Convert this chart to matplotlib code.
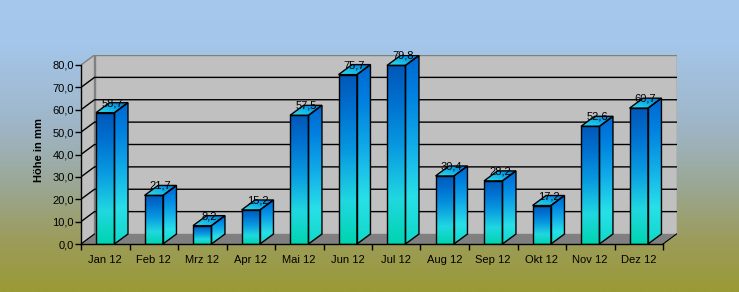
import numpy as np
import matplotlib
matplotlib.use("Agg")
import matplotlib.pyplot as plt
from matplotlib.colors import LinearSegmentedColormap
from matplotlib.patches import Polygon

plt.rcParams['font.family'] = ['Liberation Sans', 'DejaVu Sans']

# data
months = ["Jan 12", "Feb 12", "Mrz 12", "Apr 12", "Mai 12", "Jun 12",
          "Jul 12", "Aug 12", "Sep 12", "Okt 12", "Nov 12", "Dez 12"]
values = [58.7, 21.7, 8.2, 15.2, 57.5, 75.7, 79.8, 30.4, 28.2, 17.2, 52.6, 60.7]
yticks = [0, 10, 20, 30, 40, 50, 60, 70, 80]
ylabel = "Höhe in mm"

W, H, DPI = 739, 292, 100
fig = plt.figure(figsize=(W / DPI, H / DPI), dpi=DPI)

# background gradient (light blue -> olive)
bg = fig.add_axes([0, 0, 1, 1], zorder=-5)
bg_cmap = LinearSegmentedColormap.from_list("bg", [
    (0.0, "#a6c8ec"), (0.15, "#a4c6ea"), (0.45, "#9eb4c4"),
    (0.65, "#9aa690"), (0.82, "#9c9c5c"), (1.0, "#9a9a36")])
bg.imshow(np.linspace(0, 1, 256).reshape(-1, 1), aspect="auto", cmap=bg_cmap,
          extent=[0, 1, 1, 0])
bg.axis("off")

# plot area in pixels (front plane)
x0_px, y0_px = 81, 244
cat_px = 48.5
front_w = cat_px * len(months)
front_h = 179.0
dpx, dpy = 13.5, 10.0   # depth offset in pixels
ymax = 80.0
dx = dpx / cat_px
dy = dpy * ymax / front_h

ax = fig.add_axes([x0_px / W, (H - y0_px) / H, (front_w + dpx) / W, (front_h + dpy) / H])
ax.set_facecolor("none")

xl, xr = -0.5, len(months) - 0.5

# walls and floor
back = Polygon([(xl + dx, dy), (xr + dx, dy), (xr + dx, ymax + dy), (xl + dx, ymax + dy)],
               closed=True, fc="#c0c0c0", ec="#808080", lw=1.0, zorder=1)
left = Polygon([(xl, 0), (xl + dx, dy), (xl + dx, ymax + dy), (xl, ymax)],
               closed=True, fc="#c0c0c0", ec="#808080", lw=1.0, zorder=1)
floor = Polygon([(xl, 0), (xr, 0), (xr + dx, dy), (xl + dx, dy)],
                closed=True, fc="#808080", ec="none", zorder=1.5)
for p in (back, left, floor):
    ax.add_patch(p)
for t in yticks[1:-1]:
    ax.plot([xl, xl + dx, xr + dx], [t, t + dy, t + dy], color="black", lw=1.0, zorder=1.2)
ax.plot([xl, xl + dx], [0, dy], color="black", lw=0.8, zorder=2)
ax.plot([xr, xr + dx], [0, dy], color="black", lw=0.8, zorder=2)

# bar gradients
front_cmap = LinearSegmentedColormap.from_list("front", [
    (0.0, "#00d4b0"), (0.25, "#20d8e0"), (0.55, "#0898e0"), (0.8, "#0070d0"), (1.0, "#0058b8")])
side_cmap = LinearSegmentedColormap.from_list("side", [
    (0.0, "#10d8c8"), (0.25, "#28e0e8"), (0.55, "#10a8e8"), (0.8, "#0080e0"), (1.0, "#0068d0")])
top_cmap = LinearSegmentedColormap.from_list("top", [
    (0.0, "#30e0e8"), (0.5, "#10b0e8"), (1.0, "#0070d8")])
vgrad = np.linspace(1, 0, 200).reshape(-1, 1)
gx, gy = np.meshgrid(np.linspace(0, 1, 60), np.linspace(1, 0, 60))
dgrad = (gx + gy) / 2

bw = 0.38
for i, v in enumerate(values):
    a, b = i - bw / 2, i + bw / 2
    faces = [
        ([(a, 0), (b, 0), (b, v), (a, v)], [a, b, 0, v], vgrad, front_cmap),
        ([(b, 0), (b + dx, dy), (b + dx, v + dy), (b, v)], [b, b + dx, 0, v + dy], vgrad, side_cmap),
        ([(a, v), (b, v), (b + dx, v + dy), (a + dx, v + dy)], [a, b + dx, v, v + dy], dgrad, top_cmap),
    ]
    for pts, ext, grad, cm in faces:
        poly = Polygon(pts, closed=True, fc="none", ec="black", lw=1.0, zorder=4)
        ax.add_patch(poly)
        im = ax.imshow(grad, aspect="auto", cmap=cm, extent=ext, zorder=3,
                       interpolation="bilinear")
        im.set_clip_path(poly)
    ax.text(i + dx / 2, v + dy * 0.95, f"{v:.1f}".replace(".", ","), ha="center",
            va="center", fontsize=8, color="black", zorder=6)

ax.set_xlim(xl, xr + dx)
ax.set_ylim(0, ymax + dy)

for s in ("top", "right"):
    ax.spines[s].set_visible(False)
ax.spines["left"].set_bounds(0, ymax)
ax.spines["bottom"].set_bounds(xl, xr)
for s in ("left", "bottom"):
    ax.spines[s].set_color("black")
    ax.spines[s].set_linewidth(1.0)
    ax.spines[s].set_zorder(5)

ax.set_yticks(yticks)
ax.set_yticklabels([f"{t:.1f}".replace(".", ",") for t in yticks], fontsize=8)
ax.set_xticks(range(len(months)))
ax.set_xticklabels(months, fontsize=8)
ax.set_xticks(np.arange(xl, xr + 0.01, 1), minor=True)
ax.tick_params(axis="x", which="major", length=0, pad=8)
ax.tick_params(axis="x", which="minor", length=4, width=1, direction="out")
ax.tick_params(axis="y", length=4, width=1, direction="out", pad=1)
ax.set_ylabel(ylabel, fontsize=8, fontweight="bold", labelpad=6)

fig.savefig("out.png", dpi=DPI)
